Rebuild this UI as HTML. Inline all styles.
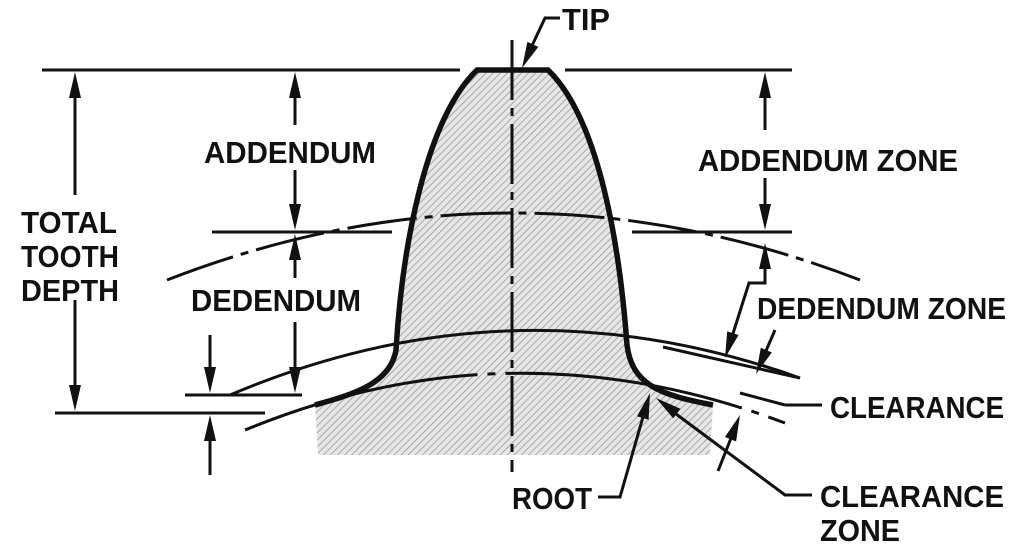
<!DOCTYPE html>
<html><head><meta charset="utf-8"><style>
html,body{margin:0;padding:0;background:#fff;}
svg{display:block;}
text{font-family:"Liberation Sans",sans-serif;font-weight:bold;font-size:31px;fill:#111;}
</style></head><body>
<svg width="1024" height="559" viewBox="0 0 1024 559" xmlns="http://www.w3.org/2000/svg">
<defs>
<pattern id="h" patternUnits="userSpaceOnUse" width="5" height="5" patternTransform="rotate(45)">
<rect width="5" height="5" fill="#e6e6e6"/>
<line x1="0" y1="0" x2="0" y2="5" stroke="#8a8a8a" stroke-width="1.3"/>
</pattern>
</defs>
<rect width="1024" height="559" fill="#fff"/>
<path d="M315,405 C350,395 390,385 396,350 C402,250 425,120 477,70 L548,70 C600,120 620,250 627,345 C632,385 660,395 713,405 L710,455 L318,455 Z" fill="url(#h)"/>
<g fill="none" stroke="#111" stroke-width="3">
<path d="M167,280 Q512,146 860,280" stroke-dasharray="70,8,8,8"/>
<path d="M230,395 Q512,275 800,378"/>
<path d="M245,430 Q512,320 785,423" stroke-dasharray="240,10,8,10"/>
<line x1="512" y1="40" x2="512" y2="472" stroke-dasharray="60,8,8,8"/>
<line x1="42" y1="70" x2="460" y2="70"/>
<line x1="565" y1="70" x2="792" y2="70"/>
<line x1="55" y1="413" x2="265" y2="413"/>
<line x1="185" y1="395" x2="302" y2="395"/>
<line x1="212" y1="232" x2="392" y2="232"/>
<line x1="632" y1="232" x2="792" y2="232"/>
<line x1="663" y1="347" x2="800" y2="378"/>
<line x1="740" y1="393" x2="785" y2="405"/>
<line x1="785" y1="405" x2="822" y2="405"/>
<line x1="75" y1="195" x2="75" y2="80"/>
<line x1="75" y1="300" x2="75" y2="400"/>
<line x1="295" y1="125" x2="295" y2="80"/>
<line x1="295" y1="170" x2="295" y2="220"/>
<line x1="295" y1="278" x2="295" y2="245"/>
<line x1="295" y1="322" x2="295" y2="380"/>
<line x1="210" y1="335" x2="210" y2="380"/>
<line x1="210" y1="475" x2="210" y2="430"/>
<line x1="765" y1="130" x2="765" y2="80"/>
<line x1="765" y1="178" x2="765" y2="220"/>
<polyline points="765,255 765,283 749,283 730,343"/>
<line x1="775" y1="330" x2="762" y2="360"/>
<line x1="718" y1="471" x2="735" y2="428"/>
<polyline points="598,497 620,497 645,410"/>
<polyline points="812,495 785,495 672,411"/>
<polyline points="560,18 545,18 530,50"/>
</g>
<g fill="#111">
<polygon points="75,72 69,98 81,98"/>
<polygon points="75,411 69,385 81,385"/>
<polygon points="295,72 289,98 301,98"/>
<polygon points="295,230 289,204 301,204"/>
<polygon points="295,234 289,260 301,260"/>
<polygon points="295,393 289,367 301,367"/>
<polygon points="210,393 204,367 216,367"/>
<polygon points="210,415 204,441 216,441"/>
<polygon points="765,72 759,98 771,98"/>
<polygon points="765,230 759,204 771,204"/>
<polygon points="765,243 759,269 771,269"/>
<polygon points="725,358 738.6,335 727.2,331.4"/>
<polygon points="756,374 771.8,352.5 760.8,347.7"/>
<polygon points="740,415 736.1,441.4 724.9,437"/>
<polygon points="650,393 648.6,419.7 637,416.3"/>
<polygon points="656,398 680.4,408.8 673.2,418.4"/>
<polygon points="522,68 538.4,46.9 527.4,41.9"/>
</g>
<path d="M315,405 C350,395 390,385 396,350 C402,250 425,120 477,70 L548,70 C600,120 620,250 627,345 C632,385 660,395 713,405" fill="none" stroke="#111" stroke-width="5.5"/>
<text x="562" y="30" textLength="48" lengthAdjust="spacingAndGlyphs">TIP</text>
<text x="204" y="163" textLength="172" lengthAdjust="spacingAndGlyphs">ADDENDUM</text>
<text x="21" y="233" textLength="96" lengthAdjust="spacingAndGlyphs">TOTAL</text>
<text x="21" y="267" textLength="98" lengthAdjust="spacingAndGlyphs">TOOTH</text>
<text x="21" y="301" textLength="98" lengthAdjust="spacingAndGlyphs">DEPTH</text>
<text x="191" y="311" textLength="170" lengthAdjust="spacingAndGlyphs">DEDENDUM</text>
<text x="698" y="171" textLength="260" lengthAdjust="spacingAndGlyphs">ADDENDUM ZONE</text>
<text x="757" y="319" textLength="249" lengthAdjust="spacingAndGlyphs">DEDENDUM ZONE</text>
<text x="830" y="418" textLength="174" lengthAdjust="spacingAndGlyphs">CLEARANCE</text>
<text x="820" y="507" textLength="184" lengthAdjust="spacingAndGlyphs">CLEARANCE</text>
<text x="820" y="541" textLength="80" lengthAdjust="spacingAndGlyphs">ZONE</text>
<text x="512" y="509" textLength="80" lengthAdjust="spacingAndGlyphs">ROOT</text>
</svg>
</body></html>
